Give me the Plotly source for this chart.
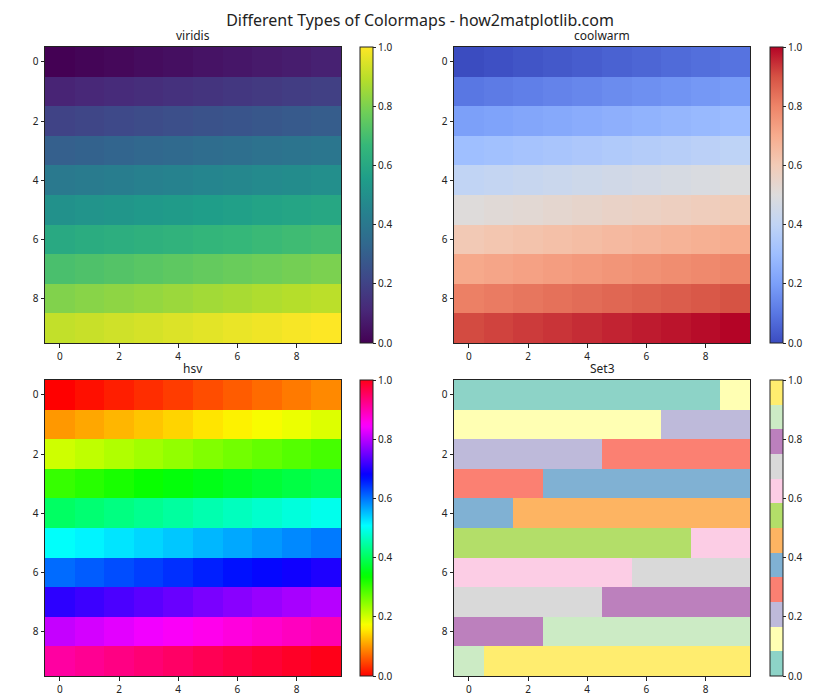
import plotly.graph_objects as go

# ---- data ----
rows = list(range(10))
cols = list(range(10))
values = [
    [0.000, 0.010, 0.020, 0.030, 0.040, 0.051, 0.061, 0.071, 0.081, 0.091],
    [0.101, 0.111, 0.121, 0.131, 0.141, 0.152, 0.162, 0.172, 0.182, 0.192],
    [0.202, 0.212, 0.222, 0.232, 0.242, 0.253, 0.263, 0.273, 0.283, 0.293],
    [0.303, 0.313, 0.323, 0.3334, 0.343, 0.354, 0.364, 0.374, 0.384, 0.394],
    [0.404, 0.414, 0.424, 0.434, 0.444, 0.455, 0.465, 0.475, 0.485, 0.495],
    [0.505, 0.515, 0.525, 0.535, 0.545, 0.556, 0.566, 0.576, 0.586, 0.596],
    [0.606, 0.616, 0.626, 0.636, 0.646, 0.657, 0.667, 0.677, 0.687, 0.697],
    [0.707, 0.717, 0.727, 0.737, 0.747, 0.758, 0.768, 0.778, 0.788, 0.798],
    [0.808, 0.818, 0.828, 0.838, 0.848, 0.859, 0.869, 0.879, 0.889, 0.899],
    [0.909, 0.919, 0.929, 0.939, 0.949, 0.960, 0.970, 0.980, 0.990, 1.000],
]
cmap_names = ["viridis", "coolwarm", "hsv", "Set3"]
tick_vals = [0, 2, 4, 6, 8]
tick_text = ["0", "2", "4", "6", "8"]
cbar_ticks = [0.0, 0.2, 0.4, 0.6, 0.8, 1.0]
title_text = "Different Types of Colormaps - how2matplotlib.com"

# ---- colorscales ----
viridis = [[0.0, "#440154"], [0.111, "#482878"], [0.222, "#3e4989"], [0.333, "#31688e"],
           [0.444, "#26828e"], [0.556, "#1f9e89"], [0.667, "#35b779"], [0.778, "#6ece58"],
           [0.889, "#b5de2b"], [1.0, "#fde725"]]
coolwarm = [[0.0, "#3b4cc0"], [0.1, "#5977e3"], [0.2, "#7b9ff9"], [0.3, "#9ebeff"],
            [0.4, "#c0d4f5"], [0.5, "#dddcdc"], [0.6, "#f2cbb7"], [0.7, "#f7ac8e"],
            [0.8, "#ee8468"], [0.9, "#d65244"], [1.0, "#b40426"]]
hsv = [[0.0, "rgb(255,0,0)"], [0.15873, "rgb(255,239,0)"], [0.174603, "rgb(247,255,0)"],
       [0.333333, "rgb(8,255,0)"], [0.349206, "rgb(0,255,16)"], [0.507937, "rgb(0,255,255)"],
       [0.666667, "rgb(0,16,255)"], [0.68254, "rgb(8,0,255)"], [0.84127, "rgb(247,0,255)"],
       [0.857143, "rgb(255,0,239)"], [1.0, "rgb(255,0,24)"]]
set3_colors = ["#8dd3c7", "#ffffb3", "#bebada", "#fb8072", "#80b1d3", "#fdb462",
               "#b3de69", "#fccde5", "#d9d9d9", "#bc80bd", "#ccebc5", "#ffed6f"]
set3 = []
n = len(set3_colors)
for i, c in enumerate(set3_colors):
    set3.append([i / n, c])
    set3.append([(i + 1) / n, c])
scales = [viridis, coolwarm, hsv, set3]

W, H = 840, 700
# panel pixel boxes: (x0, x1, ytop, ybottom), colorbar x
panels = [(45, 341, 47, 343, 360), (454, 750, 47, 343, 770),
          (45, 341, 380, 676, 360), (454, 750, 380, 676, 770)]

fig = go.Figure()
font = "Noto Sans, DejaVu Sans, sans-serif"
for k, (name, cs, box) in enumerate(zip(cmap_names, scales, panels)):
    x0, x1, yt, yb, cbx = box
    ax = "" if k == 0 else str(k + 1)
    fig.add_trace(go.Heatmap(
        z=values, x=cols, y=rows, colorscale=cs, zmin=0, zmax=1,
        xaxis="x" + ax, yaxis="y" + ax,
        colorbar=dict(
            x=cbx / W, xanchor="left", y=1 - (yt + yb) / 2 / H, yanchor="middle",
            len=(yb - yt) / H, lenmode="fraction", thickness=13, thicknessmode="pixels",
            outlinewidth=1, outlinecolor="#222", tickvals=cbar_ticks, tickformat=".1f",
            ticks="outside", ticklen=3, tickcolor="#222",
            tickfont=dict(size=10, color="#222", family=font), xpad=0, ypad=0,
        ),
    ))
    axis_common = dict(showline=True, mirror=True, linecolor="#222", linewidth=1,
                       ticks="outside", ticklen=3.5, tickcolor="#222", showgrid=False,
                       zeroline=False, tickvals=tick_vals, ticktext=tick_text,
                       tickfont=dict(size=10, color="#222", family=font))
    fig.update_layout(**{
        "xaxis" + ax: dict(domain=[x0 / W, x1 / W], range=[-0.5, 9.5],
                           anchor="y" + ax, **axis_common),
        "yaxis" + ax: dict(domain=[1 - yb / H, 1 - yt / H], range=[9.5, -0.5],
                           anchor="x" + ax, **axis_common),
    })
    fig.add_annotation(text=name, x=(x0 + x1) / 2 / W, y=1 - (yt - 1) / H,
                       xref="paper", yref="paper", xanchor="center", yanchor="bottom",
                       showarrow=False, font=dict(size=12, color="#222", family=font))

fig.update_layout(
    width=W, height=H, margin=dict(l=0, r=0, t=0, b=0),
    paper_bgcolor="white", plot_bgcolor="white",
    title=dict(text=title_text, x=0.5, xanchor="center", y=1 - 20 / H, yanchor="middle",
               font=dict(size=16, color="#222", family=font)),
    showlegend=False,
)
fig.write_html("out.html", config={"displayModeBar": False},
               post_script="document.body.style.margin='0';document.body.style.overflow='hidden';")
